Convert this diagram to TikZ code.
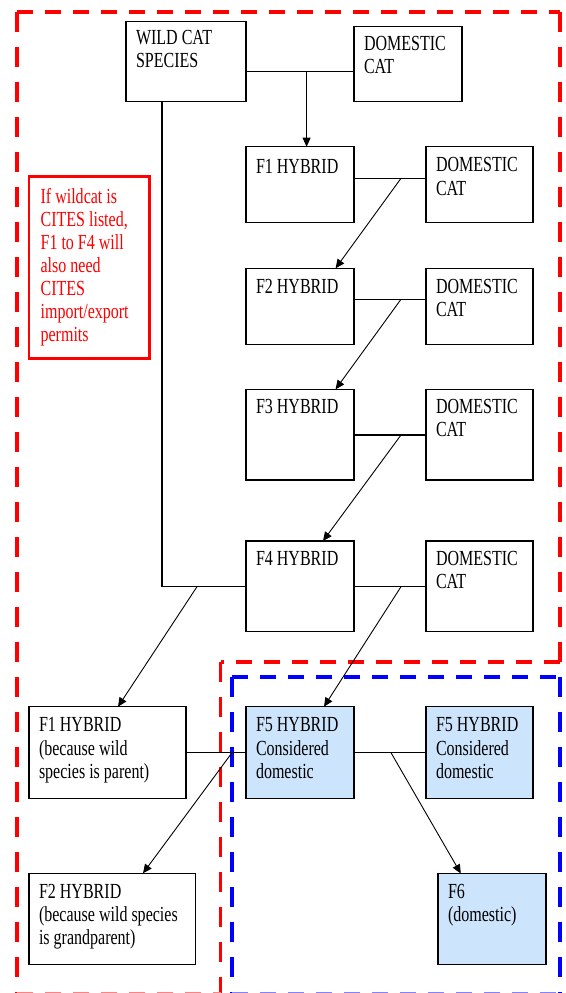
\documentclass[tikz,border=0pt]{standalone}
\usepackage{fontspec}
\setmainfont{Liberation Serif}[FakeStretch=0.745]
\usetikzlibrary{arrows.meta}
\definecolor{fred}{RGB}{255,0,0}
\definecolor{fblue}{RGB}{0,0,255}
\definecolor{fredpale}{RGB}{255,130,130}
\definecolor{fbluepale}{RGB}{130,130,255}
\definecolor{hblue}{RGB}{204,228,252}
\newcommand\bx[4][9pt]{\parbox[c][#3][t]{#2}{\vspace*{#1}\leftskip=10pt\rule{0pt}{16pt}#4}}
\tikzset{
  cell/.style={draw=black, line width=1.3pt, inner sep=0pt, outer sep=0pt, anchor=north west,
    font=\fontsize{21.5}{23.3}\selectfont},
  hyb/.style={cell, fill=hblue},
  note/.style={cell, draw=fred, line width=2.6pt, text=fred, font=\fontsize{21.5}{23.1}\selectfont},
  link/.style={line width=1.3pt},
  arr/.style={line width=0.9pt, -{Triangle[length=9pt,width=8pt]}},
  rdh/.style={draw=fred, line width=4.6pt, dash pattern=on 16pt off 12pt},
  rdv/.style={draw=fred, line width=3.8pt, dash pattern=on 20pt off 15pt},
  bdh/.style={draw=fblue, line width=4.6pt, dash pattern=on 16pt off 12pt},
  bdv/.style={draw=fblue, line width=3.8pt, dash pattern=on 20pt off 15pt},
}
\begin{document}
\begin{tikzpicture}[x=1pt, y=-1pt]
\useasboundingbox (0,0) rectangle (565,993);

% frames
\draw[rdh] (17,12) -- (560,12);
\draw[rdv] (17,12) -- (17,993);
\draw[rdv] (560,12) -- (560,662);
\draw[rdh] (560,662) -- (220.5,662);
\draw[rdv] (220.5,662) -- (220.5,993);
\draw[rdh, draw=fredpale] (17,994) -- (220.5,994);
\draw[bdh] (232,677) -- (560,677);
\draw[bdv] (232,677) -- (232,993);
\draw[bdv] (560,677) -- (560,993);
\draw[bdh, draw=fbluepale] (232,994) -- (565,994);

% boxes
\node[cell] (wild) at (126,21.7) {\bx[6.6pt]{120pt}{80pt}{WILD CAT\\SPECIES}};
\node[cell] (dc0) at (354,26.7) {\bx[7.3pt]{108pt}{75pt}{DOMESTIC\\CAT}};
\node[cell] (f1) at (246,146.7) {\bx[10.6pt]{108pt}{76pt}{F1 HYBRID}};
\node[cell] (dc1) at (426,146.7) {\bx{107pt}{76pt}{DOMESTIC\\CAT}};
\node[cell] (f2) at (246,268.3) {\bx{108pt}{76pt}{F2 HYBRID}};
\node[cell] (dc2) at (426,268.3) {\bx{107pt}{76pt}{DOMESTIC\\CAT}};
\node[cell] (f3) at (246,389.3) {\bx[8pt]{108pt}{90.7pt}{F3 HYBRID}};
\node[cell] (dc3) at (426,389.3) {\bx[8pt]{107pt}{90.7pt}{DOMESTIC\\CAT}};
\node[cell] (f4) at (246,541) {\bx[8pt]{108pt}{90.7pt}{F4 HYBRID}};
\node[cell] (dc4) at (426,541) {\bx[8pt]{107pt}{90.7pt}{DOMESTIC\\CAT}};
\node[cell] (f1l) at (29,706.7) {\bx{157pt}{91.6pt}{F1 HYBRID\\(because wild\\species is parent)}};
\node[hyb] (f5) at (246,706.7) {\bx{108pt}{91.6pt}{F5 HYBRID\\Considered\\domestic}};
\node[hyb] (f5b) at (426,706.7) {\bx{107pt}{91.6pt}{F5 HYBRID\\Considered\\domestic}};
\node[cell] (f2l) at (29,873.3) {\bx{166.5pt}{91pt}{F2 HYBRID\\(because wild species\\is grandparent)}};
\node[hyb] (f6) at (438,873.5) {\bx[8.5pt]{108pt}{91pt}{F6\\(domestic)}};
\node[note] (note) at (29,176.7) {\parbox[c][181.6pt][t]{120.5pt}{\vspace*{10.6pt}\leftskip=11.6pt\rule{0pt}{16pt}If wildcat is\\CITES listed,\\F1 to F4 will\\also need\\CITES\\import/export\\permits}};

% junctions
\coordinate (j0) at (306.6,71.7);
\coordinate (j1) at (401,178.3);
\coordinate (j2) at (401,299.3);
\coordinate (j3) at (401,435);
\coordinate (j4) at (401,586.7);
\coordinate (j5) at (197,586.7);
\coordinate (j6) at (232,752.7);
\coordinate (j7) at (391,752.7);

% connectors
\draw[link] (wild.east |- j0) -- (dc0.west |- j0);
\draw[arr] (j0) -- (f1.north -| j0);
\draw[link] (f1.east |- j1) -- (dc1.west |- j1);
\draw[arr] (j1) -- ([xshift=89.6pt]f2.north west);
\draw[link] (f2.east |- j2) -- (dc2.west |- j2);
\draw[arr] (j2) -- ([xshift=89.6pt]f3.north west);
\draw[link] (f3.east |- j3) -- (dc3.west |- j3);
\draw[arr] (j3) -- ([xshift=77pt]f4.north west);
\draw[link] (f4.east |- j4) -- (dc4.west |- j4);
\draw[arr] (j4) -- ([xshift=78pt]f5.north west);
\draw[link] ([xshift=36pt]wild.south west) |- (f4.west |- j4);
\draw[arr] (j5) -- ([xshift=89pt]f1l.north west);
\draw[link] (f1l.east |- j6) -- (f5.west |- j6);
\draw[arr] (j6) -- ([xshift=114pt]f2l.north west);
\draw[link] (f5.east |- j7) -- (f5b.west |- j7);
\draw[arr] (j7) -- ([xshift=22.8pt]f6.north west);
\end{tikzpicture}
\end{document}
